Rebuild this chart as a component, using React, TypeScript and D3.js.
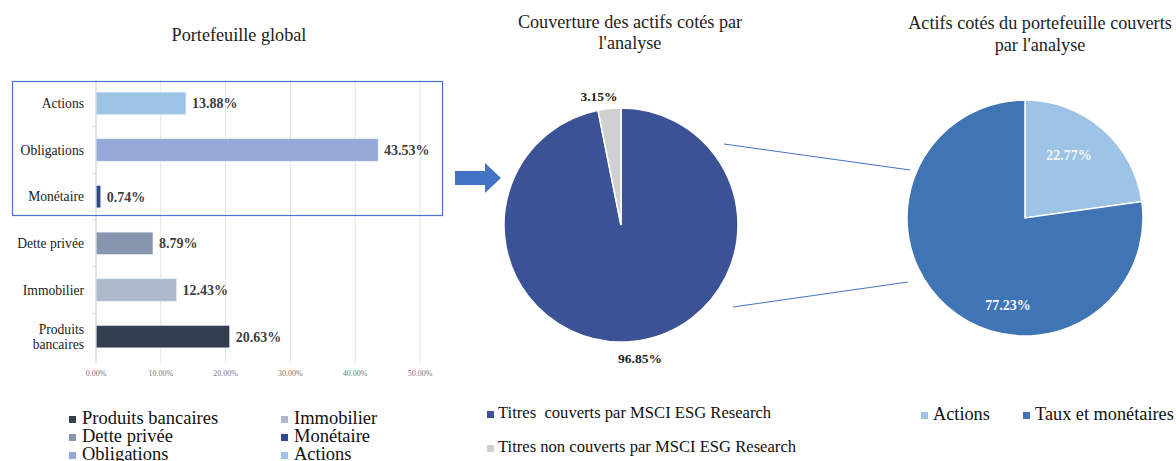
import React from "react";
import * as d3 from "d3";

const categories = ["Actions", "Obligations", "Monétaire", "Dette privée", "Immobilier", "Produits bancaires"];
const values = [13.88, 43.53, 0.74, 8.79, 12.43, 20.63];
const barColors = ["#9dc3e6", "#95a9d9", "#2f4a8c", "#8796ae", "#adb9ca", "#333f50"];
const xTicks = [0, 10, 20, 30, 40, 50];

const legendBar = [
  { name: "Produits bancaires", color: "#333f50" },
  { name: "Immobilier", color: "#adb9ca" },
  { name: "Dette privée", color: "#8796ae" },
  { name: "Monétaire", color: "#2f4a8c" },
  { name: "Obligations", color: "#95a9d9" },
  { name: "Actions", color: "#9dc3e6" },
];

const pie1Labels = ["Titres\u00a0 couverts par MSCI ESG Research", "Titres non couverts par MSCI ESG Research"];
const pie1Values = [96.85, 3.15];
const pie1Colors = ["#3c5296", "#d0d0d0"];

const pie2Labels = ["Actions", "Taux et monétaires"];
const pie2Values = [22.77, 77.23];
const pie2Colors = ["#9dc3e6", "#3f74b5"];

const FONT = "'Liberation Serif', serif";

export default function App() {
  const x = d3.scaleLinear().domain([0, 50]).range([96, 420]);
  const y = d3.scaleBand().domain(categories).range([80, 360]).paddingInner(0.52).paddingOuter(0.26);

  const p1cx = 621, p1cy = 225, p1r = 117;
  const pie1 = d3.pie<number>().sort(null).startAngle(0).endAngle(2 * Math.PI)(pie1Values);
  const arc1 = d3.arc<d3.PieArcDatum<number>>().innerRadius(0).outerRadius(p1r);

  const p2cx = 1025, p2cy = 218, p2r = 118;
  const pie2 = d3.pie<number>().sort(null)(pie2Values);
  const arc2 = d3.arc<d3.PieArcDatum<number>>().innerRadius(0).outerRadius(p2r);

  return (
    <svg width={1176} height={461} style={{ position: "absolute", left: 0, top: 0, background: "#fff" }}>
      <g fontFamily={FONT}>
        {/* Bar chart */}
        <text x={239} y={41} textAnchor="middle" fontSize={18.2} fill="#222">Portefeuille global</text>
        {xTicks.map((t) => (
          <g key={t}>
            <line x1={x(t)} x2={x(t)} y1={80} y2={363} stroke="#e3e3e3" strokeWidth={1} />
            <text x={x(t)} y={376} textAnchor="middle" fontSize={8} fill="#777">{t.toFixed(2)}%</text>
          </g>
        ))}
        {categories.map((c, i) => {
          const yy = y(c)!;
          const bh = y.bandwidth();
          const lines = c === "Produits bancaires" ? ["Produits", "bancaires"] : [c];
          return (
            <g key={c}>
              <rect x={x(0)} y={yy} width={x(values[i]) - x(0)} height={bh} fill={barColors[i]} stroke="#e6ecf5" strokeWidth={0.6} />
              <text x={x(values[i]) + 6} y={yy + bh / 2 + 5} fontSize={14} fontWeight="bold" fill="#404040">
                {values[i].toFixed(2)}%
              </text>
              {lines.map((l, k) => (
                <text key={l} x={84} y={yy + bh / 2 + 4.5 + (k - (lines.length - 1) / 2) * 15} textAnchor="end" fontSize={13.6} fill="#222">{l}</text>
              ))}
            </g>
          );
        })}
        {categories.slice(0, -1).map((c) => {
          const yy = y(c)! + y.bandwidth() + (y.step() - y.bandwidth()) / 2;
          return <line key={c} x1={92} x2={96} y1={yy} y2={yy} stroke="#d9d9d9" />;
        })}
        <line x1={96} x2={96} y1={80} y2={363} stroke="#d9d9d9" />
        <rect x={12.5} y={81.5} width={430} height={134} fill="none" stroke="#4a72c8" strokeWidth={1.2} />
        {legendBar.map((l, i) => {
          const col = i % 2, row = Math.floor(i / 2);
          const lx = col === 0 ? 69 : 281;
          const ly = 424 + row * 18;
          return (
            <g key={l.name}>
              <rect x={lx} y={ly - 8} width={7} height={7} fill={l.color} />
              <text x={lx + 13} y={ly} fontSize={18.5} fill="#111">{l.name}</text>
            </g>
          );
        })}

        {/* Arrow */}
        <path d="M455,171 L485,171 L485,163 L501,178 L485,193 L485,185 L455,185 Z" fill="#4472c4" />

        {/* Pie 1 */}
        <text x={630} y={28} textAnchor="middle" fontSize={18.2} fill="#222">Couverture des actifs cotés par</text>
        <text x={630} y={49} textAnchor="middle" fontSize={18.2} fill="#222">l'analyse</text>
        <g transform={`translate(${p1cx},${p1cy})`}>
          {pie1.map((d, i) => (
            <path key={i} d={arc1(d)!} fill={pie1Colors[i]} stroke="#fff" strokeWidth={1.5} />
          ))}
        </g>
        <text x={599} y={101} textAnchor="middle" fontSize={13.5} fontWeight="bold" fill="#222">{pie1Values[1].toFixed(2)}%</text>
        <text x={640} y={363} textAnchor="middle" fontSize={13.5} fontWeight="bold" fill="#222">{pie1Values[0].toFixed(2)}%</text>
        {pie1Labels.map((l, i) => (
          <g key={l}>
            <rect x={487} y={411 + i * 34} width={7} height={7} fill={pie1Colors[i]} />
            <text x={498} y={418 + i * 34} fontSize={16.6} fill="#111">{l}</text>
          </g>
        ))}

        {/* Connector lines */}
        <line x1={724} y1={144} x2={910} y2={170} stroke="#4472c4" strokeWidth={1} />
        <line x1={733} y1={307} x2={908} y2={282} stroke="#4472c4" strokeWidth={1} />

        {/* Pie 2 */}
        <text x={1040} y={29} textAnchor="middle" fontSize={18.2} fill="#222">Actifs cotés du portefeuille couverts</text>
        <text x={1040} y={51} textAnchor="middle" fontSize={18.2} fill="#222">par l'analyse</text>
        <g transform={`translate(${p2cx},${p2cy})`}>
          {pie2.map((d, i) => (
            <path key={i} d={arc2(d)!} fill={pie2Colors[i]} stroke="#fff" strokeWidth={1.5} />
          ))}
        </g>
        <text x={1069} y={160} textAnchor="middle" fontSize={14} fontWeight="bold" fill="#f4f7fb">{pie2Values[0].toFixed(2)}%</text>
        <text x={1008} y={310} textAnchor="middle" fontSize={14} fontWeight="bold" fill="#f4f7fb">{pie2Values[1].toFixed(2)}%</text>
        {pie2Labels.map((l, i) => {
          const lx = i === 0 ? 921 : 1023;
          return (
            <g key={l}>
              <rect x={lx} y={412} width={7} height={7} fill={pie2Colors[i]} />
              <text x={lx + 12} y={420} fontSize={18.3} fill="#111">{l}</text>
            </g>
          );
        })}
      </g>
    </svg>
  );
}
